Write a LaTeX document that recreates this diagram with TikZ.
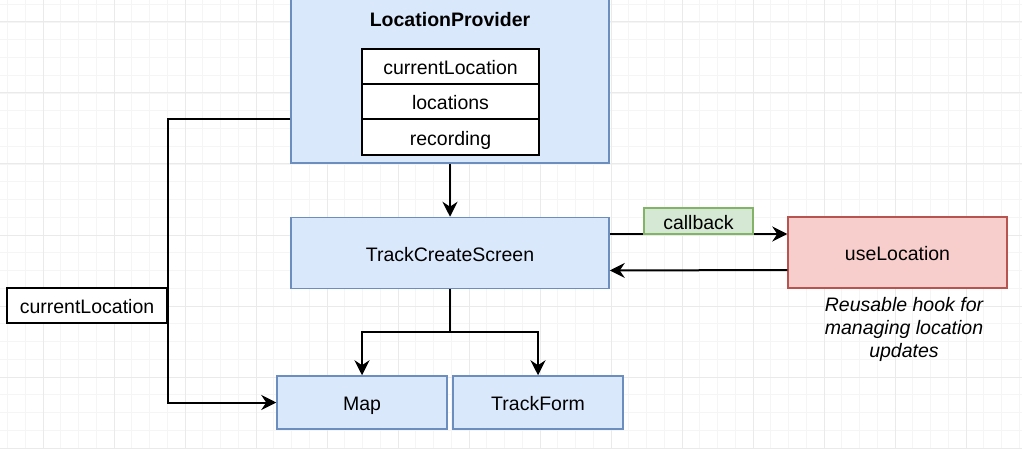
\documentclass[tikz,border=0pt]{standalone}
\usepackage{fontspec}
\setmainfont{Liberation Sans}
\usetikzlibrary{arrows.meta}
\definecolor{bluefill}{HTML}{DAE8FC}
\definecolor{bluestroke}{HTML}{6C8EBF}
\definecolor{redfill}{HTML}{F8CECC}
\definecolor{redstroke}{HTML}{B85450}
\definecolor{greenfill}{HTML}{D5E8D4}
\definecolor{greenstroke}{HTML}{82B366}
\definecolor{gridminor}{HTML}{F5F5F5}
\definecolor{gridmajor}{HTML}{EAEAEA}
\tikzset{
  base/.style={rectangle, inner sep=0pt, font=\fontsize{19.5}{23}\selectfont, text=black, text height=19pt, text depth=2.4pt},
  bluebox/.style={base, draw=bluestroke, fill=bluefill, line width=1.5pt},
  redbox/.style={base, draw=redstroke, fill=redfill, line width=1.5pt},
  greenbox/.style={base, draw=greenstroke, fill=greenfill, line width=1.5pt},
  plainbox/.style={base, draw=black, fill=white, line width=1.8pt},
  conn/.style={draw=black, line width=2pt},
  arr/.style={conn, -{Stealth[length=15pt,width=15pt,inset=5pt]}},
  minorline/.style={draw=gridminor, line width=0.8pt},
  majorline/.style={draw=gridmajor, line width=1pt},
}
\begin{document}
\begin{tikzpicture}[x=1pt,y=-1pt]
\useasboundingbox (0,0) rectangle (1022,449);
\clip (0,0) rectangle (1022,449);
\fill[white] (0,0) rectangle (1022,449);
% grid
\foreach \i in {0,...,58} \draw[minorline] ({7.5+\i*17.75},0) -- ({7.5+\i*17.75},449);
\foreach \i in {0,...,26} \draw[minorline] (0,{4.25+\i*17.75}) -- (1022,{4.25+\i*17.75});
\foreach \i in {0,...,14} \draw[majorline] ({43+\i*71},0) -- ({43+\i*71},449);
\foreach \i in {0,...,6} \draw[majorline] (0,{22+\i*71}) -- (1022,{22+\i*71});

% nodes
\node[bluebox, minimum width=318pt, minimum height=173pt] (lp) at (450,76.5) {};
\node[base, font=\fontsize{19.5}{23}\selectfont\bfseries] (lptitle) at (450,18) {LocationProvider};
\node[plainbox, minimum width=177pt, minimum height=35pt] (cl) at (450.5,66.5) {currentLocation};
\node[plainbox, minimum width=177pt, minimum height=35pt] (locs) at (450.5,101.5) {locations};
\node[plainbox, minimum width=177pt, minimum height=36pt] (rec) at (450.5,137) {recording};

\node[bluebox, minimum width=318pt, minimum height=71pt] (tcs) at (450,253) {TrackCreateScreen};
\node[redbox, minimum width=219pt, minimum height=71pt] (ul) at (897.5,252.5) {useLocation};
\node[rectangle, inner sep=0pt, align=center, font=\fontsize{19.5}{23}\selectfont\itshape] (hook) at (904,329) {Reusable hook for\\managing location\\updates};

\node[bluebox, minimum width=170pt, minimum height=53pt] (map) at (362,402.5) {Map};
\node[bluebox, minimum width=170pt, minimum height=53pt] (tf) at (538,402.5) {TrackForm};

% connectors
\draw[arr] (lp.south) -- (tcs.north);
\draw[arr] ([yshift=19pt]tcs.east) -- ([yshift=18.5pt]ul.west);
\node[greenbox, minimum width=109pt, minimum height=26pt] (cb) at (698.5,221) {callback};
\draw[arr] ([yshift=-17.5pt]ul.west) -- ([yshift=-17.5pt]tcs.east);
\draw[arr] (tcs.south) -- ++(0,43) -| (map.north);
\draw[arr] (tcs.south) -- ++(0,43) -| (tf.north);
\node[plainbox, minimum width=160pt, minimum height=35pt] (clbox) at (87,305.5) {currentLocation};
\draw[arr] ([yshift=-42.5pt]lp.west) -| (clbox.east) |- (map.west);
\end{tikzpicture}
\end{document}
